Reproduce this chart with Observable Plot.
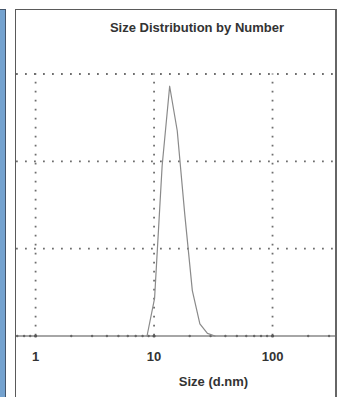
<!DOCTYPE html>
<html>
<head>
<meta charset="utf-8">
<script src="https://cdn.jsdelivr.net/npm/d3@7"></script>
<script src="https://cdn.jsdelivr.net/npm/@observablehq/plot@0.6"></script>
<style>
  html, body { margin: 0; padding: 0; background: #fff; }
  #wrap { position: relative; width: 344px; height: 397px; overflow: hidden; font-family: "Liberation Sans", Arial, sans-serif; }
  #bar { position: absolute; left: 0; top: 9px; width: 4.5px; height: 400px; background: #74a2cf; border-right: 1.5px solid #44556a; border-top: 1.5px solid #44556a; }
  #frame { position: absolute; left: 15px; top: 9px; width: 319px; height: 400px; border-left: 1.5px solid #5a5a5a; border-top: 1.5px solid #5a5a5a; border-right: 2px solid #666; }
  #title { position: absolute; left: 0; width: 394px; top: 20px; text-align: center; font-size: 13px; font-weight: bold; color: #333; }
  #xlabel { position: absolute; left: 0; width: 427px; top: 374px; text-align: center; font-size: 13px; font-weight: bold; color: #333; }
  #chart { position: absolute; left: 0; top: 0; }
</style>
</head>
<body>
<div id="wrap">
  <div id="bar"></div>
  <div id="frame"></div>
  <div id="chart"></div>
  <div id="title">Size Distribution by Number</div>
  <div id="xlabel">Size (d.nm)</div>
</div>
<script>
// Size bins (d.nm) and Number (%)
const sizes = [8.721, 10.1, 11.7, 13.54, 15.69, 18.17, 21.04, 24.36, 28.21, 32.67];
const numberPct = [0, 4.3, 19.5, 28.6, 23.5, 13.9, 5.2, 1.4, 0.3, 0];
const gridY = [10, 20, 30];
const majorX = [1, 10, 100];
const minorX = [0.7, 0.8, 0.9, 2, 3, 4, 5, 6, 7, 8, 9, 20, 30, 40, 50, 60, 70, 80, 90, 200, 300];
const xDomain = [0.69, 340];
const yDomain = [0, 30];

const data = sizes.map((s, i) => ({size: s, pct: numberPct[i]}));

const dotted = {stroke: "#555", strokeWidth: 1.8, strokeDasharray: "1.8 7.2", strokeOpacity: 0.85};

const chart = Plot.plot({
  width: 344,
  height: 397,
  marginLeft: 16,
  marginRight: 9,
  marginTop: 73.5,
  marginBottom: 61.5,
  style: {background: "transparent", fontFamily: "Liberation Sans, Arial, sans-serif"},
  x: {type: "log", domain: xDomain},
  y: {domain: yDomain},
  marks: [
    Plot.ruleY(gridY, {...dotted}),
    Plot.ruleX(majorX, {y1: 0, y2: 30, ...dotted}),
    Plot.ruleY([0], {stroke: "#888", strokeWidth: 1.6}),
    Plot.dot(minorX, {x: d => d, y: 0, r: 1.2, fill: "#666", stroke: "none"}),
    Plot.dot(majorX, {x: d => d, y: 0, r: 1.6, fill: "#555", stroke: "none"}),
    Plot.line(data, {x: "size", y: "pct", stroke: "#8a8a8a", strokeWidth: 1.2}),
    Plot.axisX({ticks: majorX, tickSize: 0, tickPadding: 16, tickFormat: d => String(d), fontSize: 13, fontWeight: "bold", fill: "#333", label: null}),
    Plot.axisY({ticks: [], label: null})
  ]
});
document.getElementById("chart").appendChild(chart);
</script>
</body>
</html>
